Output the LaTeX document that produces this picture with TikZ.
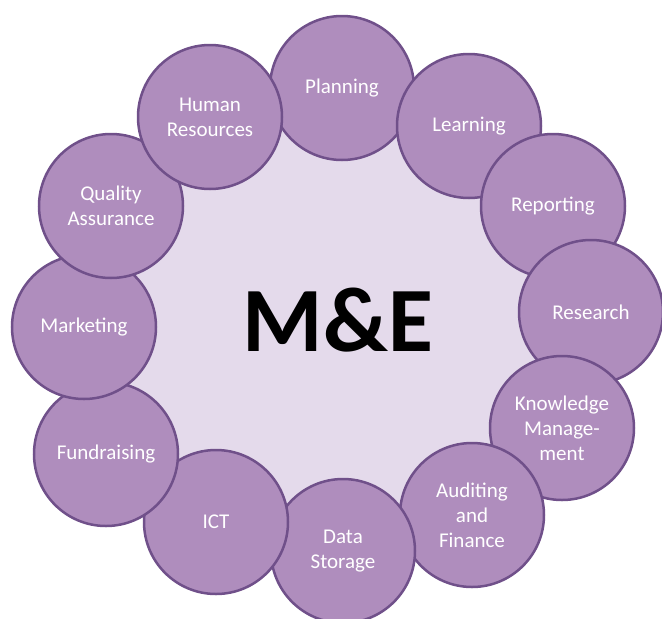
\documentclass[tikz,border=0pt]{standalone}
\usepackage{fontspec}
\setmainfont{Carlito}

\definecolor{ringfill}{HTML}{AF8DBD}
\definecolor{ringedge}{HTML}{70508A}
\definecolor{hubfill}{HTML}{E4DAEB}

\begin{document}
\begin{tikzpicture}
[
	x=1pt,
	y=-1pt,
	hub/.style={circle,fill=hubfill,inner sep=0pt,minimum size=460pt,font=\bfseries\fontsize{92}{92}\selectfont},
	area/.style={circle,draw=ringedge,fill=ringfill,line width=2.5pt,inner sep=0pt,minimum size=144pt,
		text=white,align=center,font=\fontsize{21}{25}\selectfont}
]

	\useasboundingbox (0,0) rectangle (662,619);

	% centre disc
	\node[hub] (me) at (338,320) {M\&E};

	% ring, clockwise from the top (each one lies over the one before)
	\node[area] (planning) at (342,88) {Planning};
	\node[area] (learning) at (469,126) {Learning};
	\node[area] (reporting) at (553,206) {Reporting};
	\node[area] (research) at (591,312) {Research};
	\node[area] (knowledge) at (562,428) {Knowledge\\Manage-\\ment};
	\node[area] (auditing) at (472,515) {Auditing\\and\\Finance};
	\node[area] (storage) at (343,551) {Data\\Storage};
	\node[area] (ict) at (216,522) {ICT};
	\node[area] (fundraising) at (106,454) {Fundraising};
	\node[area] (marketing) at (84,327) {Marketing};
	\node[area] (quality) at (111,206) {Quality\\Assurance};
	\node[area] (hr) at (210,117) {Human\\Resources};

\end{tikzpicture}
\end{document}
